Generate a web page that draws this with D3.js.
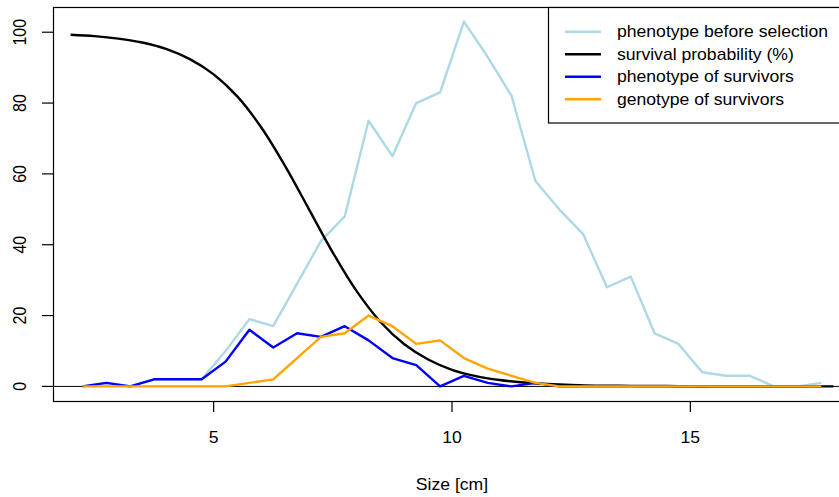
<!DOCTYPE html>
<html>
<head>
<meta charset="utf-8">
<script src="https://cdn.jsdelivr.net/npm/d3@7/dist/d3.min.js"></script>
<style>
  html, body { margin: 0; padding: 0; background: #fff; }
  svg { display: block; font-family: "Liberation Sans", Arial, Helvetica, sans-serif; }
</style>
</head>
<body>
<div id="chart"></div>
<script>
// size classes (bin midpoints, cm)
const sizes = [2.25, 2.75, 3.25, 3.75, 4.25, 4.75, 5.25, 5.75, 6.25, 6.75, 7.25, 7.75,
  8.25, 8.75, 9.25, 9.75, 10.25, 10.75, 11.25, 11.75, 12.25, 12.75, 13.25, 13.75,
  14.25, 14.75, 15.25, 15.75, 16.25, 16.75, 17.25, 17.75]

const phenoBefore = [0, 1, 0, 2, 2, 2, 10, 19, 17, 29, 41, 48,
  75, 65, 80, 83, 103, 93, 82, 58, 50, 43, 28, 31,
  15, 12, 4, 3, 3, 0, 0, 1]

const phenoSurvivors = [0, 1, 0, 2, 2, 2, 7, 16, 11, 15, 14, 17,
  13, 8, 6, 0, 3, 1, 0, 1, 0, 0, 0, 0,
  0, 0, 0, 0, 0, 0, 0, 0]

const genoSurvivors = [0, 0, 0, 0, 0, 0, 0, 1, 2, 8, 14, 15,
  20, 17, 12, 13, 8, 5, 3, 1, 0, 0, 0, 0,
  0, 0, 0, 0, 0, 0, 0, 0]

// survival curve, read at half-cm steps
const survSizes = [2, 2.5, 3, 3.5, 4, 4.5, 5, 5.5, 6, 6.5, 7, 7.5, 8, 8.5, 9, 9.5,
  10, 10.5, 11, 11.5, 12, 12.5, 13, 13.5, 14, 14.5, 15, 15.5, 16, 16.5, 17, 17.5, 18]
const survival = [99.3, 98.9, 98.2, 97.1, 95.3, 92.4, 88.1, 81.8, 73.1, 62.2, 50.0, 37.8,
  26.9, 18.2, 11.9, 7.6, 4.7, 2.9, 1.8, 1.1, 0.7, 0.4, 0.2, 0.2, 0.1, 0.1,
  0, 0, 0, 0, 0, 0, 0]

const xTicks = [5, 10, 15]
const yTicks = [0, 20, 40, 60, 80, 100]

const legendItems = [
  { label: 'phenotype before selection', color: '#add8e6' },
  { label: 'survival probability (%)', color: '#000000' },
  { label: 'phenotype of survivors', color: '#0000ff' },
  { label: 'genotype of survivors', color: '#ffa500' }
]

const width = 839
const height = 497
const plot = { left: 53, top: 7, right: 851, bottom: 401 }
const fs = 16
const sx = 1.1 // horizontal stretch of the original raster

const svg = d3.select('#chart').append('svg')
  .attr('width', width).attr('height', height)

// R-style 4% expansion
const xr = [2.25, 17.75]
const xPad = (xr[1] - xr[0]) * 0.04
const x = d3.scaleLinear().domain([xr[0] - xPad, xr[1] + xPad]).range([plot.left, plot.right])
const yr = [0, 103]
const yPad = (yr[1] - yr[0]) * 0.04
const y = d3.scaleLinear().domain([yr[0] - yPad, yr[1] + yPad]).range([plot.bottom, plot.top])

svg.append('clipPath').attr('id', 'clip').append('rect')
  .attr('x', plot.left).attr('y', plot.top)
  .attr('width', plot.right - plot.left).attr('height', plot.bottom - plot.top)

const g = svg.append('g').attr('clip-path', 'url(#clip)')

// horizontal line at zero
g.append('line')
  .attr('x1', plot.left).attr('x2', plot.right)
  .attr('y1', y(0)).attr('y2', y(0))
  .attr('stroke', '#000').attr('stroke-width', 1)

const line = d3.line().x(d => x(d[0])).y(d => y(d[1]))
const smooth = d3.line().x(d => x(d[0])).y(d => y(d[1])).curve(d3.curveCatmullRom)

const series = [
  { xs: sizes, ys: phenoBefore, color: '#add8e6', gen: line },
  { xs: survSizes, ys: survival, color: '#000000', gen: smooth },
  { xs: sizes, ys: phenoSurvivors, color: '#0000ff', gen: line },
  { xs: sizes, ys: genoSurvivors, color: '#ffa500', gen: line }
]

series.forEach(s => {
  g.append('path')
    .datum(s.xs.map((v, i) => [v, s.ys[i]]))
    .attr('d', s.gen)
    .attr('fill', 'none')
    .attr('stroke', s.color)
    .attr('stroke-width', 2.4)
    .attr('stroke-linejoin', 'round')
})

// box
svg.append('rect')
  .attr('x', plot.left + 0.5).attr('y', plot.top + 0.5)
  .attr('width', plot.right - plot.left).attr('height', plot.bottom - plot.top)
  .attr('fill', 'none').attr('stroke', '#000').attr('stroke-width', 1.2)

// x axis
const xa = svg.append('g')
xa.selectAll('line').data(xTicks).join('line')
  .attr('x1', d => x(d)).attr('x2', d => x(d))
  .attr('y1', plot.bottom).attr('y2', plot.bottom + 11)
  .attr('stroke', '#000').attr('stroke-width', 1.2)
xa.selectAll('text').data(xTicks).join('text')
  .attr('transform', d => `translate(${x(d)},443) scale(${sx},1)`)
  .attr('text-anchor', 'middle')
  .style('font-size', fs + 'px')
  .text(d => d)

// y axis
const ya = svg.append('g')
ya.selectAll('line').data(yTicks).join('line')
  .attr('x1', plot.left - 11).attr('x2', plot.left)
  .attr('y1', d => y(d)).attr('y2', d => y(d))
  .attr('stroke', '#000').attr('stroke-width', 1.2)
ya.selectAll('text').data(yTicks).join('text')
  .attr('transform', d => `translate(26,${y(d)}) rotate(-90) scale(1,${sx})`)
  .attr('text-anchor', 'middle')
  .style('font-size', fs + 'px')
  .text(d => d)

svg.append('text')
  .attr('transform', `translate(${x(10)},490) scale(${sx},1)`)
  .attr('text-anchor', 'middle')
  .style('font-size', fs + 'px')
  .text('Size [cm]')

// legend (topright)
const lg = svg.append('g')
lg.append('rect')
  .attr('x', 548.5).attr('y', plot.top + 0.5)
  .attr('width', plot.right - 548).attr('height', 122.5 - plot.top)
  .attr('fill', '#fff').attr('stroke', '#000').attr('stroke-width', 1.2)

legendItems.forEach((item, i) => {
  const ly = 31.7 + i * 22.5
  lg.append('line')
    .attr('x1', 565).attr('x2', 601).attr('y1', ly).attr('y2', ly)
    .attr('stroke', item.color).attr('stroke-width', 2.4)
  lg.append('text')
    .attr('transform', `translate(617,${ly + 5.6}) scale(${sx},1)`)
    .style('font-size', fs + 'px')
    .text(item.label)
})
</script>
</body>
</html>
